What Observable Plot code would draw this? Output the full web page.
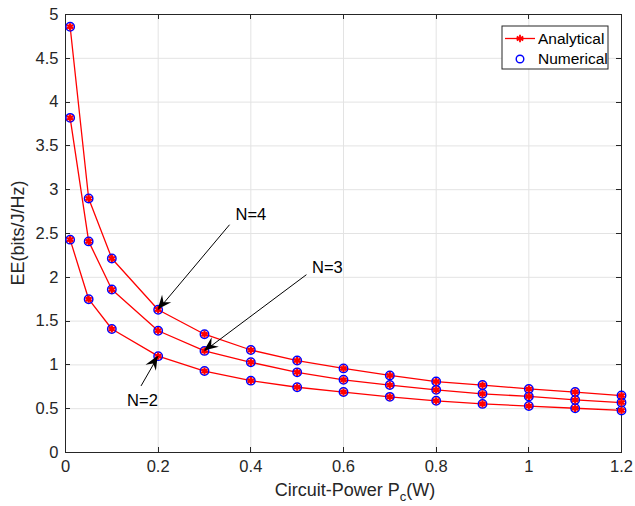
<!DOCTYPE html>
<html>
<head>
<meta charset="utf-8">
<script src="https://cdn.jsdelivr.net/npm/d3@7"></script>
<script src="https://cdn.jsdelivr.net/npm/@observablehq/plot@0.6"></script>
<style>
  html, body { margin: 0; padding: 0; background: #fff; }
  #chart { width: 635px; height: 506px; }
  svg { font-family: "Liberation Sans", Arial, sans-serif; }
</style>
</head>
<body>
<div id="chart"></div>
<script>
// ---- data ----
const circuitPower = [0.01, 0.05, 0.1, 0.2, 0.3, 0.4, 0.5, 0.6, 0.7, 0.8, 0.9, 1.0, 1.1, 1.2];
const eeN2 = [2.43, 1.75, 1.41, 1.10, 0.93, 0.82, 0.745, 0.69, 0.635, 0.59, 0.555, 0.53, 0.505, 0.48];
const eeN3 = [3.82, 2.41, 1.86, 1.39, 1.16, 1.03, 0.915, 0.83, 0.77, 0.715, 0.67, 0.64, 0.60, 0.57];
const eeN4 = [4.86, 2.90, 2.215, 1.63, 1.35, 1.17, 1.05, 0.96, 0.88, 0.81, 0.77, 0.726, 0.69, 0.65];
const seriesNames = ["N=2", "N=3", "N=4"];
const xTicks = [0, 0.2, 0.4, 0.6, 0.8, 1.0, 1.2];
const yTicks = [0, 0.5, 1, 1.5, 2, 2.5, 3, 3.5, 4, 4.5, 5];
const legendLabels = ["Analytical", "Numerical"];
// annotation: label, label position, arrow tail, arrow tip (data units)
const annLabel = ["N=4", "N=3", "N=2"];
const annTextX = [0.367, 0.532, 0.133];
const annTextY = [2.72, 2.11, 0.59];
const annTailX = [0.354, 0.52, 0.163];
const annTailY = [2.60, 2.03, 0.76];
const annTipX = [0.2, 0.3, 0.2];
const annTipY = [1.63, 1.16, 1.10];

const rows = [];
[eeN2, eeN3, eeN4].forEach((ys, k) => {
  ys.forEach((v, i) => rows.push({series: seriesNames[k], x: circuitPower[i], y: v}));
});
const ann = annLabel.map((t, i) => ({
  label: t, tx: annTextX[i], ty: annTextY[i],
  x1: annTailX[i], y1: annTailY[i], x2: annTipX[i], y2: annTipY[i]
}));

const axisColor = "#262626";
const tickFont = 16.5;

// inward ticks on all four sides (MATLAB box style)
function inwardTicks(index, scales, values, dims) {
  const g = d3.create("svg:g").attr("stroke", axisColor).attr("stroke-width", 1);
  const L = dims.marginLeft, R = dims.width - dims.marginRight;
  const T = dims.marginTop, B = dims.height - dims.marginBottom;
  const len = 5;
  for (const t of xTicks) {
    const x = Math.round(scales.x(t)) + 0.5;
    g.append("line").attr("x1", x).attr("x2", x).attr("y1", B).attr("y2", B - len);
    g.append("line").attr("x1", x).attr("x2", x).attr("y1", T).attr("y2", T + len);
  }
  for (const t of yTicks) {
    const y = Math.round(scales.y(t)) + 0.5;
    g.append("line").attr("y1", y).attr("y2", y).attr("x1", L).attr("x2", L + len);
    g.append("line").attr("y1", y).attr("y2", y).attr("x1", R).attr("x2", R - len);
  }
  return g.node();
}

// filled barbed arrowheads (MATLAB "vback2" style) at the arrow tips
function arrowHeads(index, scales) {
  const g = d3.create("svg:g").attr("fill", "#000").attr("stroke", "none");
  for (const a of ann) {
    const x1 = scales.x(a.x1), y1 = scales.y(a.y1);
    const x2 = scales.x(a.x2), y2 = scales.y(a.y2);
    const ang = Math.atan2(y2 - y1, x2 - x1) * 180 / Math.PI;
    const Lh = 14, W = 6, back = 9;
    g.append("path")
      .attr("d", `M0,0 L${-Lh},${-W} L${-back},0 L${-Lh},${W} Z`)
      .attr("transform", `translate(${x2},${y2}) rotate(${ang})`);
  }
  return g.node();
}

const svg = Plot.plot({
  width: 635,
  height: 506,
  marginLeft: 65,
  marginRight: 14,
  marginTop: 14,
  marginBottom: 54,
  style: {fontFamily: '"Liberation Sans", Arial, sans-serif', fontSize: tickFont + "px", color: axisColor, background: "#fff"},
  x: {domain: [0, 1.2]},
  y: {domain: [0, 5]},
  marks: [
    Plot.gridX(xTicks, {stroke: "#e3e3e3", strokeOpacity: 1}),
    Plot.gridY(yTicks, {stroke: "#e3e3e3", strokeOpacity: 1}),
    Plot.axisX(xTicks, {anchor: "bottom", tickSize: 0, tickPadding: 8, label: null, tickFormat: d => String(d), fill: axisColor, fontSize: tickFont}),
    Plot.axisY(yTicks, {anchor: "left", tickSize: 0, tickPadding: 7, label: null, tickFormat: d => String(d), fill: axisColor, fontSize: tickFont}),
    inwardTicks,
    Plot.frame({stroke: axisColor, strokeWidth: 1}),
    Plot.line(rows, {x: "x", y: "y", z: "series", stroke: "#ff0000", strokeWidth: 1.3}),
    Plot.dot(rows, {x: "x", y: "y", r: 4.2, stroke: "#0000ff", strokeWidth: 1.5, fill: "none"}),
    Plot.dot(rows, {x: "x", y: "y", symbol: "asterisk", r: 3.4, stroke: "#ff0000", strokeWidth: 2.2}),
    Plot.link(ann, {x1: "x1", y1: "y1", x2: "x2", y2: "y2", stroke: "#000", strokeWidth: 1}),
    arrowHeads,
    Plot.text(ann, {x: "tx", y: "ty", text: "label", textAnchor: "start", fill: "#000", fontSize: tickFont})
  ]
});

const s = d3.select(svg);
// x label with subscript
const xl = s.append("text")
  .attr("x", 355).attr("y", 496)
  .attr("text-anchor", "middle").attr("fill", axisColor)
  .style("font-size", "18px");
xl.append("tspan").text("Circuit-Power P");
xl.append("tspan").attr("dy", 5).style("font-size", "13px").text("c");
xl.append("tspan").attr("dy", -5).text("(W)");
// y label
s.append("text")
  .attr("transform", "translate(24," + ((14 + 452) / 2) + ") rotate(-90)")
  .attr("text-anchor", "middle").attr("fill", axisColor)
  .style("font-size", "18px").text("EE(bits/J/Hz)");

// legend
const lg = s.append("g").attr("transform", "translate(502,26)");
lg.append("rect").attr("width", 106).attr("height", 43).attr("fill", "#fff").attr("stroke", axisColor).attr("stroke-width", 1);
lg.append("line").attr("x1", 3).attr("x2", 33).attr("y1", 12.5).attr("y2", 12.5).attr("stroke", "#ff0000").attr("stroke-width", 1.3);
lg.append("path").attr("d", d3.symbol(d3.symbolAsterisk, 40)()).attr("transform", "translate(18,12.5)").attr("stroke", "#ff0000").attr("stroke-width", 1.8).attr("fill", "none");
lg.append("circle").attr("cx", 18).attr("cy", 33).attr("r", 3.8).attr("stroke", "#0000ff").attr("stroke-width", 1.4).attr("fill", "none");
lg.append("text").attr("x", 36).attr("y", 12.5).attr("dy", "0.35em").attr("text-anchor", "start").attr("fill", "#000").style("font-size", "15.5px").text(legendLabels[0]);
lg.append("text").attr("x", 36).attr("y", 33).attr("dy", "0.35em").attr("text-anchor", "start").attr("fill", "#000").style("font-size", "15.5px").text(legendLabels[1]);

document.getElementById("chart").appendChild(svg);
</script>
</body>
</html>
